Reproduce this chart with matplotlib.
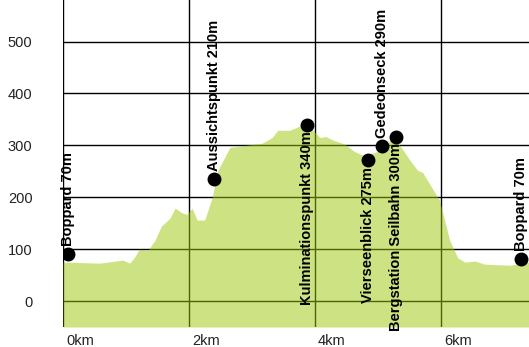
import matplotlib.pyplot as plt
import matplotlib.transforms as mtrans

# Höhenprofil (km, m)
profil_km = [0.0, 0.59, 0.95, 1.06, 1.14, 1.21, 1.35, 1.46, 1.56, 1.70, 1.78, 1.89,
             1.97, 2.05, 2.13, 2.25, 2.37, 2.46, 2.65, 2.89, 3.16, 3.32, 3.41, 3.60,
             3.76, 3.89, 3.97, 4.08, 4.17, 4.29, 4.48, 4.63, 4.76, 4.95, 5.03, 5.16,
             5.22, 5.35, 5.51, 5.63, 5.71, 5.98, 6.14, 6.27, 6.38, 6.54, 6.70, 7.10, 7.40]
profil_m = [75, 73, 79, 73, 85, 100, 98, 117, 144, 160, 179, 170,
            167, 179, 156, 156, 200, 252, 296, 300, 304, 315, 329, 329,
            337, 344, 329, 315, 317, 310, 302, 288, 281, 286, 290, 304,
            313, 300, 271, 252, 248, 194, 117, 83, 75, 77, 71, 69, 75]

# Wegpunkte
punkt_namen = ["Boppard 70m", "Aussichtspunkt 210m", "Kulminationspunkt 340m",
               "Vierseenblick 275m", "Gedeonseck 290m", "Bergstation Seilbahn 300m",
               "Boppard 70m"]
punkt_km = [0.08, 2.40, 3.87, 4.84, 5.06, 5.29, 7.27]
punkt_m = [90, 235, 340, 271, 298, 317, 81]
punkt_oben = [True, True, False, False, True, False, True]

y_ticks = [0, 100, 200, 300, 400, 500]
x_ticks = [0, 2, 4, 6]
x_labels = ["0km", "2km", "4km", "6km"]

plt.rcParams['font.family'] = ['Liberation Sans', 'DejaVu Sans']

fig = plt.figure(figsize=(5.29, 3.47), dpi=100)
ax = fig.add_axes([63/529, 20/347, 1 - 63/529, 327/347])

ax.set_xlim(0, 7.4)
ax.set_ylim(-50, 580)

ax.set_yticks(y_ticks)
ax.set_xticks(x_ticks)
ax.set_xticklabels(x_labels, ha='left')
ax.grid(True, color='black', linewidth=1, zorder=1)
ax.set_axisbelow(True)
ax.tick_params(axis='both', length=0, labelsize=10.5, colors='#222222')
ax.tick_params(axis='y', pad=22)
ax.tick_params(axis='x', pad=5)

# x-Beschriftung etwas rechts von der Gitterlinie
off = mtrans.ScaledTranslation(3/100, 0, fig.dpi_scale_trans)
for lbl in ax.get_xticklabels():
    lbl.set_transform(lbl.get_transform() + off)

for s in ax.spines.values():
    s.set_visible(False)

ax.fill_between(profil_km, -50, profil_m, color='#9bc709', alpha=0.5,
                linewidth=0, zorder=2)

ax.plot(punkt_km, punkt_m, 'o', color='black', markersize=9, zorder=4)
for name, x, y, oben in zip(punkt_namen, punkt_km, punkt_m, punkt_oben):
    if oben:
        ax.annotate(name, (x, y), xytext=(0, 6), textcoords='offset points',
                    rotation=90, ha='center', va='bottom', fontsize=10.5,
                    fontweight='bold', zorder=5)
    else:
        ax.annotate(name, (x, y), xytext=(0, -5), textcoords='offset points',
                    rotation=90, ha='center', va='top', fontsize=10.5,
                    fontweight='bold', zorder=5)

fig.savefig("out.png", dpi=100)
